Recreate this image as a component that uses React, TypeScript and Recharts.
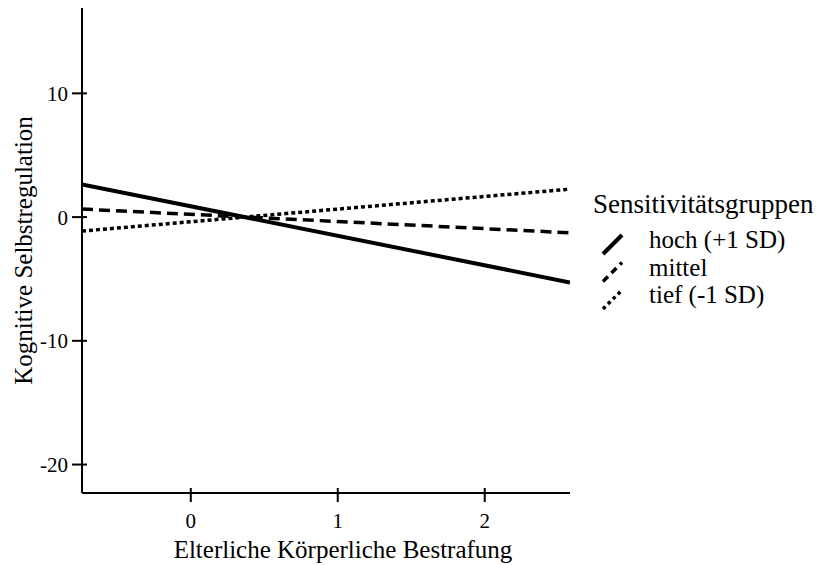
import React from 'react';
import { LineChart, Line, XAxis, YAxis, Legend, Label } from 'recharts';

// values (line end points)
const xValues = [-0.74, 2.58];
const hoch = [2.64, -5.28];
const mittel = [0.65, -1.27];
const tief = [-1.13, 2.26];

const xTicks = [0, 1, 2];
const yTicks = [-20, -10, 0, 10];
const xDomain = [-0.74, 2.58];
const yDomain = [-22.3, 16.9];

const seriesNames = ['hoch (+1 SD)', 'mittel', 'tief (-1 SD)'];
const legendTitle = 'Sensitivitätsgruppen';
const xTitle = 'Elterliche Körperliche Bestrafung';
const yTitle = 'Kognitive Selbstregulation';

const FONT = '"Liberation Serif", "Times New Roman", serif';

const data = xValues.map((x, i) => ({ x, hoch: hoch[i], mittel: mittel[i], tief: tief[i] }));

const dashes: Record<string, string | undefined> = {
  hoch: undefined,
  mittel: '11 6',
  tief: '4 3',
};
const legendDashes: Record<string, string | undefined> = {
  hoch: undefined,
  mittel: '7 5',
  tief: '3.5 3.5',
};
const widths: Record<string, number> = { hoch: 4, mittel: 3.5, tief: 3.5 };

const XTick = (props: any) => {
  const { x, y, payload } = props;
  return (
    <g>
      <line x1={x} x2={x} y1={y - 13} y2={y + 1} stroke="#000" strokeWidth={2} />
      <text x={x} y={y + 27} textAnchor="middle" fontFamily={FONT} style={{ fontSize: 21, fontFamily: FONT }} fill="#000">
        {payload.value}
      </text>
    </g>
  );
};

const YTick = (props: any) => {
  const { x, y, payload } = props;
  return (
    <g>
      <line x1={x - 2} x2={x + 13} y1={y} y2={y} stroke="#000" strokeWidth={2} />
      <text x={x - 6} y={y + 7.5} textAnchor="end" fontFamily={FONT} style={{ fontSize: 21, fontFamily: FONT }} fill="#000">
        {payload.value}
      </text>
    </g>
  );
};

const LegendBox = (props: any) => {
  const { payload } = props;
  return (
    <svg width={237} height={140} style={{ display: 'block' }}>
      <text x={8} y={28} fontFamily={FONT} style={{ fontSize: 27, fontFamily: FONT }} fill="#000">
        {legendTitle}
      </text>
      {(payload || []).map((p: any, i: number) => {
        const key = p.dataKey as string;
        const base = 63 + i * 27.5;
        return (
          <g key={key}>
            <line
              x1={18}
              y1={base + 6}
              x2={37}
              y2={base - 13}
              stroke="#000"
              strokeWidth={widths[key]}
              strokeDasharray={legendDashes[key]}
            />
            <text x={64} y={base} fontFamily={FONT} style={{ fontSize: 25, fontFamily: FONT }} fill="#000">
              {p.value}
            </text>
          </g>
        );
      })}
    </svg>
  );
};

export default function App() {
  return (
    <div style={{ position: 'absolute', left: 0, top: 0, width: 822, height: 565, background: '#fff' }}>
      <LineChart width={822} height={565} data={data} margin={{ top: 8, right: 15, bottom: 12, left: 22 }}>
        <XAxis
          type="number"
          dataKey="x"
          domain={xDomain}
          ticks={xTicks}
          allowDataOverflow
          axisLine={{ stroke: '#000', strokeWidth: 2 }}
          tickLine={false}
          tick={<XTick />}
          height={60}
          interval={0}
        >
          <Label
            value={xTitle}
            content={(lp: any) => {
              const vb = lp.viewBox;
              return (
                <text
                  x={vb.x + vb.width / 2 + 17}
                  y={vb.y + 65}
                  textAnchor="middle"
                  fontFamily={FONT}
                  style={{ fontSize: 25, fontFamily: FONT }}
                  fill="#000"
                >
                  {xTitle}
                </text>
              );
            }}
          />
        </XAxis>
        <YAxis
          type="number"
          domain={yDomain}
          ticks={yTicks}
          allowDataOverflow
          axisLine={{ stroke: '#000', strokeWidth: 2 }}
          tickLine={false}
          tick={<YTick />}
          width={60}
          interval={0}
        >
          <Label
            value={yTitle}
            content={(lp: any) => {
              const vb = lp.viewBox;
              const cx = vb.x + 1;
              const cy = vb.y + vb.height / 2;
              return (
                <text
                  x={cx}
                  y={cy}
                  transform={`rotate(-90, ${cx}, ${cy})`}
                  textAnchor="middle"
                  dominantBaseline="central"
                  fontFamily={FONT}
                  style={{ fontSize: 25, fontFamily: FONT }}
                  fill="#000"
                >
                  {yTitle}
                </text>
              );
            }}
          />
        </YAxis>
        <Legend
          layout="vertical"
          align="right"
          verticalAlign="middle"
          content={<LegendBox />}
          wrapperStyle={{ position: 'absolute', left: 585, top: 185, width: 237, height: 140 }}
        />
        {['hoch', 'mittel', 'tief'].map((k, i) => (
          <Line
            key={k}
            type="linear"
            dataKey={k}
            name={seriesNames[i]}
            stroke="#000"
            strokeWidth={widths[k]}
            strokeDasharray={dashes[k]}
            dot={false}
            activeDot={false}
            isAnimationActive={false}
          />
        ))}
      </LineChart>
    </div>
  );
}
